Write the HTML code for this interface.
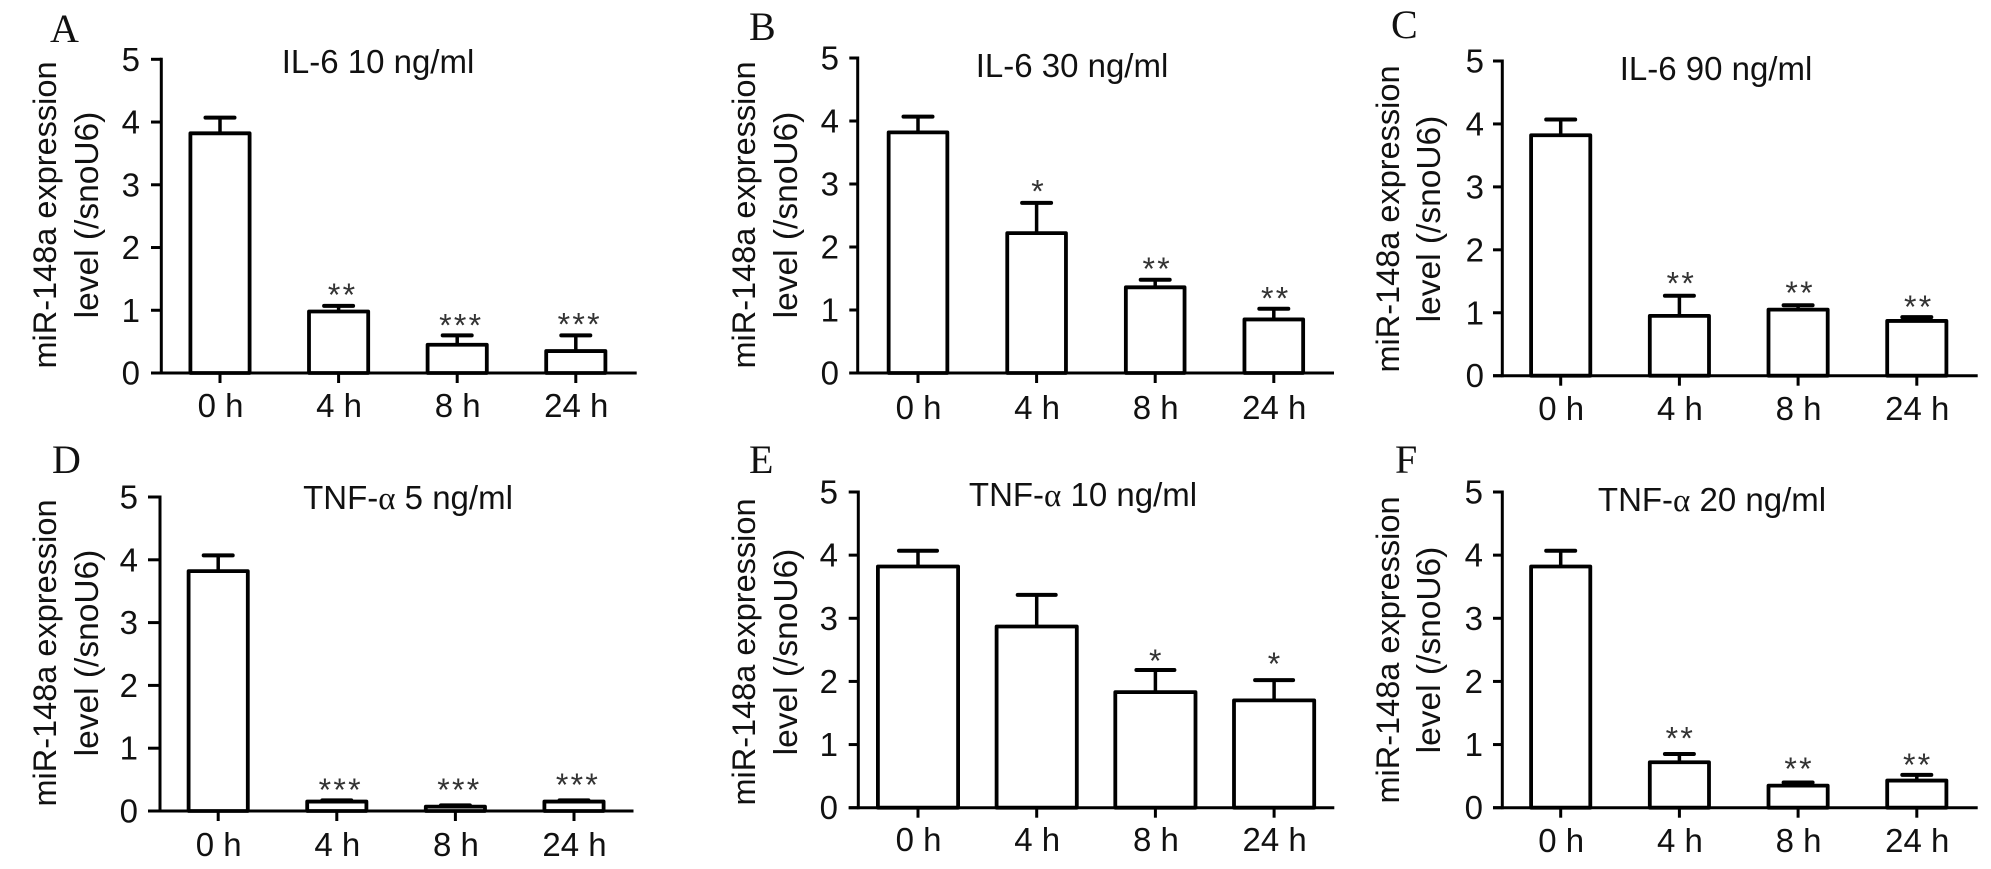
<!DOCTYPE html>
<html lang="en">
<head>
<meta charset="utf-8">
<title>miR-148a expression after IL-6 and TNF-α treatment</title>
<style>
html,body{margin:0;padding:0;background:#fff}
svg{display:block}
text{font-family:"Liberation Sans",Arial,sans-serif;fill:#111}
.letter{font-family:"Liberation Serif",serif;font-size:40px}
.tick{font-size:33px}
.ttl{font-size:33px}
.ytitle{font-size:32.5px}
.ytitle2{font-size:33.5px}
.star{font-size:32px;letter-spacing:2.3px;fill:#333}
</style>
</head>
<body>
<svg id="figure" width="1991" height="869" viewBox="0 0 1991 869" xmlns="http://www.w3.org/2000/svg"></svg>
<script>
const categories = ['0 h', '4 h', '8 h', '24 h'];
const yTickLabels = [0, 1, 2, 3, 4, 5];
const yTitleLine1 = 'miR-148a expression';
const yTitleLine2 = 'level (/snoU6)';

const valuesA = [3.82, 0.98, 0.45, 0.35];
const errorTopsA = [4.07, 1.07, 0.6, 0.6];
const starsA = ['', '**', '***', '***'];
const starLevelsA = [0, 1.3, 0.81, 0.83];

const valuesB = [3.82, 2.22, 1.36, 0.85];
const errorTopsB = [4.07, 2.7, 1.48, 1.02];
const starsB = ['', '*', '**', '**'];
const starLevelsB = [0, 2.94, 1.71, 1.235];

const valuesC = [3.82, 0.95, 1.05, 0.87];
const errorTopsC = [4.07, 1.27, 1.12, 0.93];
const starsC = ['', '**', '**', '**'];
const starLevelsC = [0, 1.52, 1.37, 1.15];

const valuesD = [3.82, 0.15, 0.07, 0.15];
const errorTopsD = [4.07, 0.17, 0.09, 0.17];
const starsD = ['', '***', '***', '***'];
const starLevelsD = [0, 0.39, 0.39, 0.47];

const valuesE = [3.82, 2.87, 1.83, 1.7];
const errorTopsE = [4.07, 3.37, 2.18, 2.02];
const starsE = ['', '', '*', '*'];
const starLevelsE = [0, 0, 2.38, 2.33];

const valuesF = [3.82, 0.72, 0.35, 0.43];
const errorTopsF = [4.07, 0.85, 0.4, 0.52];
const starsF = ['', '**', '**', '**'];
const starLevelsF = [0, 1.15, 0.67, 0.73];

const panels = [
  {id:'a', letter:'A', title:'IL-6 10 ng/ml', alpha:false, values:valuesA, tops:errorTopsA, stars:starsA, levels:starLevelsA,
   lx:50, ly:42, tx:378, ty:73, axisX:161.3, top:59.3, base:373, xl:151, xr:636.7, first:220, step:118.6, barW:63, capW:33, tickR:140, xlabY:417, y1x:56, y2x:98, yc:215, starDx:3},
  {id:'b', letter:'B', title:'IL-6 30 ng/ml', alpha:false, values:valuesB, tops:errorTopsB, stars:starsB, levels:starLevelsB,
   lx:749, ly:40, tx:1072, ty:77, axisX:857.7, top:58, base:373, xl:849.3, xr:1334, first:918, step:118.6, barW:62.5, capW:33, tickR:839, xlabY:419, y1x:755, y2x:797, yc:215, starDx:1},
  {id:'c', letter:'C', title:'IL-6 90 ng/ml', alpha:false, values:valuesC, tops:errorTopsC, stars:starsC, levels:starLevelsC,
   lx:1391, ly:38, tx:1716, ty:80, axisX:1502.3, top:61, base:375.7, xl:1493, xr:1977.7, first:1560.7, step:118.7, barW:63, capW:33, tickR:1484, xlabY:420, y1x:1399, y2x:1440, yc:219, starDx:1},
  {id:'d', letter:'D', title:'TNF-', titleEnd:' 5 ng/ml', alpha:true, values:valuesD, tops:errorTopsD, stars:starsD, levels:starLevelsD,
   lx:52, ly:473, tx:408, ty:509, axisX:160, top:497, base:811, xl:148, xr:633.5, first:218.2, step:118.6, barW:63, capW:33, tickR:138, xlabY:856, y1x:56, y2x:98, yc:653, starDx:3},
  {id:'e', letter:'E', title:'TNF-', titleEnd:' 10 ng/ml', alpha:true, values:valuesE, tops:errorTopsE, stars:starsE, levels:starLevelsE,
   lx:749, ly:473, tx:1083, ty:506, axisX:858.3, top:492, base:807.7, xl:848.7, xr:1334.3, first:918, step:118.7, barW:84, capW:42, tickR:838, xlabY:851, y1x:755, y2x:797, yc:652, starDx:0},
  {id:'f', letter:'F', title:'TNF-', titleEnd:' 20 ng/ml', alpha:true, values:valuesF, tops:errorTopsF, stars:starsF, levels:starLevelsF,
   lx:1395, ly:473, tx:1712, ty:511, axisX:1502.3, top:492, base:807.7, xl:1493, xr:1977.7, first:1560.7, step:118.7, barW:63, capW:33, tickR:1483, xlabY:852, y1x:1399, y2x:1440, yc:650, starDx:0}
];

const NS = 'http://www.w3.org/2000/svg';
const svg = document.getElementById('figure');

function make(tag, attrs, parent, content) {
  const node = document.createElementNS(NS, tag);
  for (const k in attrs) node.setAttribute(k, attrs[k]);
  if (content !== undefined) node.textContent = content;
  parent.appendChild(node);
  return node;
}

panels.forEach(function (p) {
  const g = make('g', {}, svg);
  
  

  const yScale = function (v) { return p.base - (v / 5) * (p.base - p.top); };
  const xScale = function (i) { return p.first + i * p.step; };

  const letter = make('text', {x:p.lx, y:p.ly, class:'letter'}, g, p.letter);
  
  

  const title = make('text', {x:p.tx, y:p.ty, class:'ttl', 'text-anchor':'middle'}, g);
  
  
  make('tspan', {}, title, p.title);
  if (p.alpha) {
    make('tspan', {style:'font-family:"Liberation Serif",serif'}, title, 'α');
    make('tspan', {}, title, p.titleEnd);
  }

  const y1 = make('text', {class:'ytitle', 'text-anchor':'middle', transform:'translate(' + p.y1x + ',' + p.yc + ') rotate(-90)'}, g, yTitleLine1);
  
  
  const y2 = make('text', {class:'ytitle2', 'text-anchor':'middle', transform:'translate(' + p.y2x + ',' + p.yc + ') rotate(-90)'}, g, yTitleLine2);
  
  

  /* error bars behind the bars */
  p.values.forEach(function (v, i) {
    const cx = xScale(i);
    const stem = make('line', {x1:cx, x2:cx, y1:yScale(v), y2:yScale(p.tops[i]), stroke:'#000', 'stroke-width':3.5}, g);
    
    
    const cap = make('line', {x1:cx - p.capW / 2 + 2, x2:cx + p.capW / 2 - 2, y1:yScale(p.tops[i]), y2:yScale(p.tops[i]), stroke:'#000', 'stroke-width':4, 'stroke-linecap':'round'}, g);
    
    
  });

  p.values.forEach(function (v, i) {
    const cx = xScale(i);
    const sw = 3.8;
    const bar = make('rect', {x:cx - p.barW / 2 + sw / 2, y:yScale(v), width:p.barW - sw, height:p.base - yScale(v), fill:'#fff', stroke:'#000', 'stroke-width':sw, 'stroke-linejoin':'round'}, g);
    
    
    if (p.stars[i]) {
      const s = make('text', {x:cx + p.starDx + 1, y:yScale(p.levels[i]) + 14.5, class:'star', 'text-anchor':'middle'}, g, p.stars[i]);
      
      
    }
  });

  const yAxis = make('line', {x1:p.axisX, x2:p.axisX, y1:p.top - 1.5, y2:p.base + 1.5, stroke:'#000', 'stroke-width':3}, g);
  
  
  const xAxis = make('line', {x1:p.xl, x2:p.xr, y1:p.base, y2:p.base, stroke:'#000', 'stroke-width':3}, g);
  
  

  yTickLabels.forEach(function (t) {
    const yy = yScale(t);
    const mark = make('line', {x1:p.xl, x2:p.axisX, y1:yy, y2:yy, stroke:'#000', 'stroke-width':3}, g);
    
    
    const lab = make('text', {x:p.tickR, y:yy + 11.5, class:'tick', 'text-anchor':'end'}, g, t);
    
    
  });

  categories.forEach(function (c, i) {
    const cx = xScale(i);
    const mark = make('line', {x1:cx, x2:cx, y1:p.base, y2:p.base + 10, stroke:'#000', 'stroke-width':3}, g);
    
    
    const lab = make('text', {x:cx + 0.5, y:p.xlabY, class:'tick', 'text-anchor':'middle'}, g, c);
    
    
  });
});
</script>
</body>
</html>
